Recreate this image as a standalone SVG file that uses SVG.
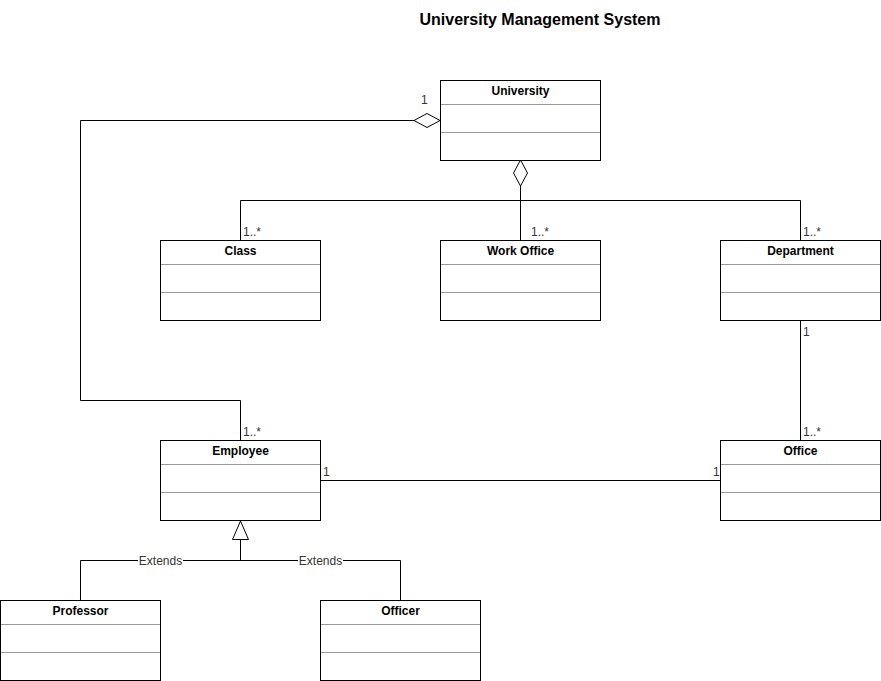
<svg xmlns="http://www.w3.org/2000/svg" width="881" height="681" viewBox="0 0 881 681">
<style>
.box{fill:#fff;stroke:#000;stroke-width:1}
.sep{stroke:#999;stroke-width:1}
.name{font-family:"Liberation Sans",Arial,sans-serif;font-size:12px;font-weight:bold;text-anchor:middle;fill:#000}
.lbl{font-family:"Liberation Sans",Arial,sans-serif;font-size:12px;fill:#333}
.ext{font-family:"Liberation Sans",Arial,sans-serif;font-size:12px;fill:#333;text-anchor:middle}
.ln{fill:none;stroke:#000;stroke-width:1}
.title{font-family:"Liberation Sans",Arial,sans-serif;font-size:16px;font-weight:bold;text-anchor:middle;fill:#000}
</style>
<rect width="881" height="681" fill="#fff"/>
<text class="title" x="540" y="25">University Management System</text>
<g id="connectors">
<polyline class="ln" points="240.5,440 240.5,400.5 80.5,400.5 80.5,120.5 414,120.5"/>
<polygon points="440,120.5 427,113.5 414,120.5 427,127.5" fill="#fff" stroke="#000"/>
<polyline class="ln" points="520.5,186 520.5,200.5"/>
<polyline class="ln" points="240.5,240 240.5,200.5 800.5,200.5 800.5,240"/>
<line class="ln" x1="520.5" y1="200.5" x2="520.5" y2="240"/>
<polygon points="520.5,160 513.5,173 520.5,186 527.5,173" fill="#fff" stroke="#000"/>
<line class="ln" x1="800.5" y1="320" x2="800.5" y2="440"/>
<line class="ln" x1="320" y1="480.5" x2="720" y2="480.5"/>
<polygon points="240.5,521 232.5,539.5 248.5,539.5" fill="#fff" stroke="#000"/>
<polyline class="ln" points="240.5,540 240.5,560.5"/>
<polyline class="ln" points="80.5,600 80.5,560.5 400.5,560.5 400.5,600"/>
<rect x="138" y="553" width="45" height="13" fill="#fff"/>
<rect x="298" y="553" width="45" height="13" fill="#fff"/>
<text class="ext" x="160.5" y="564.5">Extends</text>
<text class="ext" x="320.5" y="564.5">Extends</text>
<text class="lbl" x="421" y="104">1</text>
<text class="lbl" x="243" y="236">1..*</text>
<text class="lbl" x="531" y="236">1..*</text>
<text class="lbl" x="803" y="236">1..*</text>
<text class="lbl" x="803" y="336">1</text>
<text class="lbl" x="803" y="436">1..*</text>
<text class="lbl" x="243" y="436">1..*</text>
<text class="lbl" x="323" y="476">1</text>
<text class="lbl" x="713" y="476">1</text>
</g>
<g id="university">
<rect class="box" x="440.5" y="80.5" width="160" height="80"/>
<line class="sep" x1="441" y1="104.5" x2="600" y2="104.5"/>
<line class="sep" x1="441" y1="132.5" x2="600" y2="132.5"/>
<text class="name" x="520.5" y="95">University</text>
</g>
<g id="class">
<rect class="box" x="160.5" y="240.5" width="160" height="80"/>
<line class="sep" x1="161" y1="264.5" x2="320" y2="264.5"/>
<line class="sep" x1="161" y1="292.5" x2="320" y2="292.5"/>
<text class="name" x="240.5" y="255">Class</text>
</g>
<g id="workoffice">
<rect class="box" x="440.5" y="240.5" width="160" height="80"/>
<line class="sep" x1="441" y1="264.5" x2="600" y2="264.5"/>
<line class="sep" x1="441" y1="292.5" x2="600" y2="292.5"/>
<text class="name" x="520.5" y="255">Work Office</text>
</g>
<g id="department">
<rect class="box" x="720.5" y="240.5" width="160" height="80"/>
<line class="sep" x1="721" y1="264.5" x2="880" y2="264.5"/>
<line class="sep" x1="721" y1="292.5" x2="880" y2="292.5"/>
<text class="name" x="800.5" y="255">Department</text>
</g>
<g id="employee">
<rect class="box" x="160.5" y="440.5" width="160" height="80"/>
<line class="sep" x1="161" y1="464.5" x2="320" y2="464.5"/>
<line class="sep" x1="161" y1="492.5" x2="320" y2="492.5"/>
<text class="name" x="240.5" y="455">Employee</text>
</g>
<g id="office">
<rect class="box" x="720.5" y="440.5" width="160" height="80"/>
<line class="sep" x1="721" y1="464.5" x2="880" y2="464.5"/>
<line class="sep" x1="721" y1="492.5" x2="880" y2="492.5"/>
<text class="name" x="800.5" y="455">Office</text>
</g>
<g id="professor">
<rect class="box" x="0.5" y="600.5" width="160" height="80"/>
<line class="sep" x1="1" y1="624.5" x2="160" y2="624.5"/>
<line class="sep" x1="1" y1="652.5" x2="160" y2="652.5"/>
<text class="name" x="80.5" y="615">Professor</text>
</g>
<g id="officer">
<rect class="box" x="320.5" y="600.5" width="160" height="80"/>
<line class="sep" x1="321" y1="624.5" x2="480" y2="624.5"/>
<line class="sep" x1="321" y1="652.5" x2="480" y2="652.5"/>
<text class="name" x="400.5" y="615">Officer</text>
</g>
</svg>
